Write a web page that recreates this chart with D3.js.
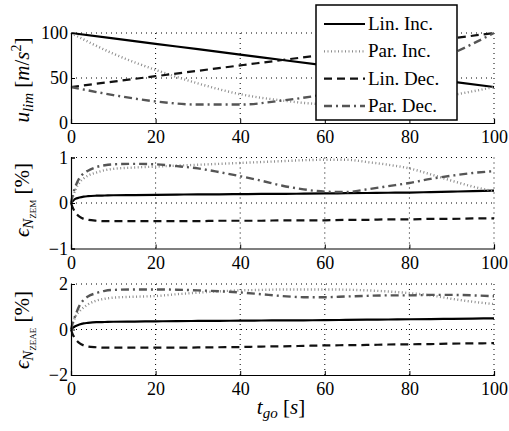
<!DOCTYPE html>
<html>
<head>
<meta charset="utf-8">
<script src="https://cdn.jsdelivr.net/npm/d3@7"></script>
<style>
  html, body { margin: 0; padding: 0; background: #fff; }
  svg { display: block; }
  svg text, svg tspan { font-family: "Liberation Serif", "Times New Roman", serif !important; }
</style>
</head>
<body>
<svg id="chart" width="509" height="431"></svg>
<script>
// ---- data ----
const seriesNames = ["Lin. Inc.", "Par. Inc.", "Lin. Dec.", "Par. Dec."];

// upper panel: limit acceleration profiles
const tLim = [0, 10, 20, 30, 40, 50, 60, 70, 80, 90, 100];
const uLinInc = [100, 94, 88, 82, 76, 70, 64, 58, 52, 46, 40];
const uParInc = [100, 77, 59, 44, 32, 25, 21, 21, 25, 31, 40];
const uLinDec = [40, 46, 52, 58, 64, 70, 76, 82, 88, 94, 100];
const uParDec = [40, 31, 24, 20.5, 20.5, 25, 32, 43, 58, 77, 100];

// lower panels: relative errors
const tErr = [0, 0.5, 1, 2, 3, 4, 6, 8, 10, 15, 20, 25, 30, 35, 40, 45, 50, 55, 60, 65, 70, 75, 80, 85, 90, 95, 100];
const zemLinInc = [0, 0.05, 0.09, 0.12, 0.14, 0.15, 0.16, 0.165, 0.17, 0.175, 0.18, 0.185, 0.19, 0.19, 0.195, 0.2, 0.2, 0.205, 0.21, 0.215, 0.22, 0.225, 0.23, 0.24, 0.25, 0.26, 0.27];
const zemParInc = [0, 0.15, 0.28, 0.45, 0.54, 0.6, 0.67, 0.72, 0.75, 0.78, 0.8, 0.82, 0.84, 0.86, 0.88, 0.9, 0.92, 0.94, 0.95, 0.95, 0.9, 0.84, 0.76, 0.63, 0.49, 0.36, 0.26];
const zemLinDec = [0, -0.12, -0.2, -0.3, -0.35, -0.37, -0.39, -0.4, -0.4, -0.4, -0.4, -0.4, -0.4, -0.39, -0.39, -0.39, -0.38, -0.38, -0.38, -0.37, -0.37, -0.36, -0.36, -0.35, -0.35, -0.34, -0.34];
const zemParDec = [0, 0.2, 0.35, 0.55, 0.65, 0.71, 0.79, 0.83, 0.85, 0.86, 0.85, 0.81, 0.76, 0.68, 0.59, 0.49, 0.38, 0.3, 0.25, 0.24, 0.3, 0.37, 0.44, 0.53, 0.6, 0.66, 0.7];

const zeaeLinInc = [0, 0.08, 0.14, 0.22, 0.27, 0.29, 0.32, 0.33, 0.34, 0.35, 0.36, 0.37, 0.375, 0.38, 0.39, 0.395, 0.4, 0.405, 0.41, 0.42, 0.43, 0.44, 0.45, 0.46, 0.47, 0.48, 0.49];
const zeaeParInc = [0, 0.3, 0.55, 0.8, 0.97, 1.1, 1.27, 1.35, 1.4, 1.44, 1.47, 1.55, 1.62, 1.68, 1.72, 1.74, 1.76, 1.76, 1.76, 1.75, 1.72, 1.67, 1.6, 1.5, 1.35, 1.22, 1.12];
const zeaeLinDec = [0, -0.25, -0.4, -0.6, -0.7, -0.75, -0.78, -0.8, -0.8, -0.8, -0.8, -0.8, -0.79, -0.78, -0.77, -0.75, -0.74, -0.72, -0.7, -0.69, -0.68, -0.66, -0.65, -0.64, -0.62, -0.61, -0.6];
const zeaeParDec = [0, 0.35, 0.6, 1.05, 1.3, 1.45, 1.6, 1.7, 1.74, 1.76, 1.76, 1.75, 1.72, 1.68, 1.63, 1.55, 1.47, 1.42, 1.42, 1.45, 1.48, 1.5, 1.5, 1.52, 1.52, 1.5, 1.46];

const xTicks = [0, 20, 40, 60, 80, 100];
const yTicksLim = [0, 50, 100];
const yTicksZem = [-1, 0, 1];
const yTicksZeae = [-2, 0, 2];

// ---- styles for the four profiles ----
const lineStyles = [
  { stroke: "#000", width: 2.2, dash: null },
  { stroke: "#8c8c8c", width: 2.4, dash: "1,2.5" },
  { stroke: "#111", width: 2.2, dash: "8,5" },
  { stroke: "#555", width: 2.4, dash: "8,4,2,4" }
];

const svg = d3.select("#chart");
const x = d3.scaleLinear().domain([0, 100]).range([71, 494]);

const panels = [
  { t: tLim, series: [uLinInc, uParInc, uLinDec, uParDec], domain: [0, 100], ticks: yTicksLim, top: 33, bottom: 123 },
  { t: tErr, series: [zemLinInc, zemParInc, zemLinDec, zemParDec], domain: [-1, 1], ticks: yTicksZem, top: 157.5, bottom: 248.5 },
  { t: tErr, series: [zeaeLinInc, zeaeParInc, zeaeLinDec, zeaeParDec], domain: [-2, 2], ticks: yTicksZeae, top: 284, bottom: 375 }
];

panels.forEach((p, pi) => {
  const y = d3.scaleLinear().domain(p.domain).range([p.bottom, p.top]);
  const g = svg.append("g");
  const x0 = x.range()[0], x1 = x.range()[1];

  // dotted grid (also forms the top and right box edges)
  g.selectAll(".vgrid").data(xTicks.slice(1)).join("line")
    .attr("x1", d => x(d)).attr("x2", d => x(d))
    .attr("y1", p.top).attr("y2", p.bottom)
    .attr("stroke", "#000").attr("stroke-width", 1).attr("stroke-dasharray", "1,4");
  g.selectAll(".hgrid").data(p.ticks.slice(1)).join("line")
    .attr("x1", x0).attr("x2", x1)
    .attr("y1", d => y(d)).attr("y2", d => y(d))
    .attr("stroke", "#000").attr("stroke-width", 1).attr("stroke-dasharray", "1,4");

  // data lines
  const clipId = "clip" + pi;
  svg.append("clipPath").attr("id", clipId).append("rect")
    .attr("x", x0 - 2).attr("y", p.top - 2).attr("width", x1 - x0 + 4).attr("height", p.bottom - p.top + 4);
  const line = d3.line().x((d, i) => x(p.t[i])).y(d => y(d)).curve(d3.curveMonotoneX);
  p.series.forEach((vals, si) => {
    const st = lineStyles[si];
    g.append("path").datum(vals)
      .attr("clip-path", `url(#${clipId})`)
      .attr("d", line)
      .attr("fill", "none")
      .attr("stroke", st.stroke)
      .attr("stroke-width", st.width)
      .attr("stroke-dasharray", st.dash);
  });

  // axes (left and bottom solid, ticks pointing inward, labels in serif)
  const xAxis = d3.axisBottom(x).tickValues(xTicks).tickSize(-4).tickPadding(10);
  const yAxis = d3.axisLeft(y).tickValues(p.ticks).tickSize(-4).tickPadding(7)
    .tickFormat(d => d < 0 ? "\u2212" + Math.abs(d) : d);
  const styleAxis = a => {
    a.attr("font-family", null).attr("font-size", null);
    a.select(".domain").attr("stroke", "#000").attr("stroke-width", 1.2);
    a.selectAll(".tick line").attr("stroke", "#000");
    a.selectAll(".tick text").attr("fill", "#000").style("font-size", "18px");
  };
  g.append("g").attr("transform", `translate(0,${p.bottom})`).call(xAxis).call(styleAxis)
    .selectAll(".tick text").attr("y", 20).attr("dy", null);
  g.append("g").attr("transform", `translate(${x0},0)`).call(yAxis).call(styleAxis)
    .selectAll(".tick text").attr("x", -3).attr("dy", "0.33em");
});

// ---- axis titles ----
function yTitle(cx, cy, build) {
  const t = svg.append("text")
    .attr("transform", `translate(${cx},${cy}) rotate(-90)`)
    .attr("text-anchor", "middle").style("font-size", "21px");
  build(t);
}
yTitle(29, 80, t => {
  t.append("tspan").attr("font-style", "italic").text("u");
  t.append("tspan").attr("font-style", "italic").style("font-size", "15px").attr("dy", 4).text("lim");
  t.append("tspan").attr("dy", -4).text(" [");
  t.append("tspan").attr("font-style", "italic").text("m");
  t.append("tspan").text("/");
  t.append("tspan").attr("font-style", "italic").text("s");
  t.append("tspan").style("font-size", "14px").attr("dy", -8).text("2");
  t.append("tspan").attr("dy", 8).text("]");
});
yTitle(29, 200, t => {
  t.append("tspan").attr("font-style", "italic").text("\u03F5");
  t.append("tspan").attr("font-style", "italic").style("font-size", "15px").attr("dy", 4).text("N");
  t.append("tspan").style("font-size", "9px").attr("dy", 3).text("ZEM");
  t.append("tspan").attr("dy", -7).text("  [%]");
});
yTitle(29, 330, t => {
  t.append("tspan").attr("font-style", "italic").text("\u03F5");
  t.append("tspan").attr("font-style", "italic").style("font-size", "15px").attr("dy", 4).text("N");
  t.append("tspan").style("font-size", "9px").attr("dy", 3).text("ZEAE");
  t.append("tspan").attr("dy", -7).text("  [%]");
});

const xt = svg.append("text").attr("x", 281).attr("y", 414)
  .attr("text-anchor", "middle").style("font-size", "21px");
xt.append("tspan").attr("font-style", "italic").text("t");
xt.append("tspan").attr("font-style", "italic").style("font-size", "15px").attr("dy", 4).text("go");
xt.append("tspan").attr("dy", -4).text(" [");
xt.append("tspan").attr("font-style", "italic").text("s");
xt.append("tspan").text("]");

// ---- legend ----
const legend = svg.append("g");
legend.append("rect").attr("x", 316).attr("y", 5).attr("width", 141).attr("height", 115)
  .attr("fill", "#fff").attr("stroke", "#000").attr("stroke-width", 1.5);
const legendY = d3.scalePoint().domain(seriesNames).range([24, 106]);
seriesNames.forEach((name, i) => {
  const st = lineStyles[i];
  legend.append("line")
    .attr("x1", 324).attr("x2", 365)
    .attr("y1", legendY(name)).attr("y2", legendY(name))
    .attr("stroke", st.stroke).attr("stroke-width", st.width)
    .attr("stroke-dasharray", st.dash);
  legend.append("text").attr("x", 368).attr("y", legendY(name) + 6)
    .style("font-size", "19px").text(name);
});
</script>
</body>
</html>
